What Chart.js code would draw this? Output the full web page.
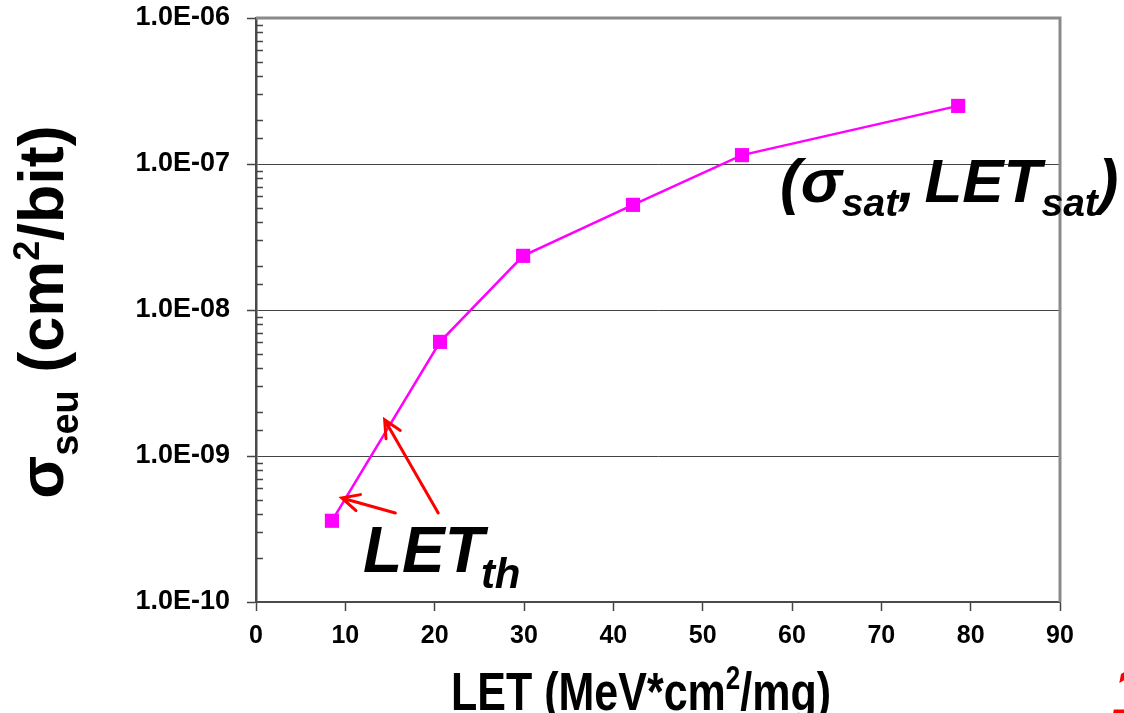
<!DOCTYPE html>
<html>
<head>
<meta charset="utf-8">
<script src="https://cdn.jsdelivr.net/npm/chart.js@4/dist/chart.umd.min.js"></script>
<style>
  html, body { margin: 0; padding: 0; background: #fff; }
  #wrap { width: 1124px; height: 713px; }
</style>
</head>
<body>
<div id="wrap"><canvas id="mycanvas" width="1124" height="713"></canvas></div>
<script>
// LET (MeV*cm2/mg) and cross section (cm2/bit)
var letValues = [8.5, 20.6, 29.9, 42.2, 54.4, 78.6];
var sigmaValues = [3.6e-10, 6.05e-9, 2.35e-8, 5.25e-8, 1.15e-7, 2.5e-7];

var xTickValues = [0, 10, 20, 30, 40, 50, 60, 70, 80, 90];
var yTickLabels = ['1.0E-10', '1.0E-09', '1.0E-08', '1.0E-07', '1.0E-06'];

// red arrows pointing at the threshold (tail -> head, data units)
var arrowTails = [[15.6, 4.07e-10], [20.4, 4.07e-10]];
var arrowHeads = [[9.6, 5.16e-10], [14.4, 1.77e-9]];

var FONT = "'Liberation Sans', Arial, sans-serif";

function isDecade(v) {
  var l = Math.log10(v);
  return Math.abs(l - Math.round(l)) < 1e-6;
}

// draw a run of text pieces (normal / sub / superscript) starting at x
function drawRun(ctx, pieces, x, y) {
  pieces.forEach(function(p) {
    ctx.font = p.font;
    ctx.fillText(p.t, x, y + (p.dy || 0));
    x += ctx.measureText(p.t).width + (p.gap || 0);
  });
  return x;
}
function runWidth(ctx, pieces) {
  var w = 0;
  pieces.forEach(function(p) {
    ctx.font = p.font;
    w += ctx.measureText(p.t).width + (p.gap || 0);
  });
  return w;
}

var extras = {
  id: 'extras',
  afterDraw: function(chart) {
    var ctx = chart.ctx;
    var a = chart.chartArea;
    var xs = chart.scales.x, ys = chart.scales.y;
    ctx.save();

    // top + right frame
    ctx.strokeStyle = '#8a8a8a';
    ctx.lineWidth = 3;
    ctx.beginPath();
    ctx.moveTo(a.left, a.top);
    ctx.lineTo(a.right, a.top);
    ctx.lineTo(a.right, a.bottom);
    ctx.stroke();

    // minor ticks inside the y axis
    ctx.strokeStyle = '#444';
    ctx.lineWidth = 1.5;
    ys.ticks.forEach(function(t) {
      if (isDecade(t.value)) return;
      var py = Math.round(ys.getPixelForValue(t.value)) + 0.5;
      ctx.beginPath();
      ctx.moveTo(a.left, py);
      ctx.lineTo(a.left + 7, py);
      ctx.stroke();
    });

    // arrows
    ctx.strokeStyle = '#ff0000';
    ctx.lineWidth = 3;
    ctx.lineCap = 'round';
    for (var i = 0; i < arrowTails.length; i++) {
      var x0 = xs.getPixelForValue(arrowTails[i][0]), y0 = ys.getPixelForValue(arrowTails[i][1]);
      var x1 = xs.getPixelForValue(arrowHeads[i][0]), y1 = ys.getPixelForValue(arrowHeads[i][1]);
      var ang = Math.atan2(y1 - y0, x1 - x0);
      var hl = 19, hw = 0.45;
      ctx.beginPath();
      ctx.moveTo(x0, y0);
      ctx.lineTo(x1, y1);
      ctx.moveTo(x1 - hl * Math.cos(ang - hw), y1 - hl * Math.sin(ang - hw));
      ctx.lineTo(x1, y1);
      ctx.lineTo(x1 - hl * Math.cos(ang + hw), y1 - hl * Math.sin(ang + hw));
      ctx.stroke();
    }

    ctx.fillStyle = '#000';
    ctx.textBaseline = 'alphabetic';
    ctx.textAlign = 'left';

    // y title, rotated
    var yt = [
      { t: 'σ', font: 'bold 63px ' + FONT },
      { t: 'seu', font: 'bold 38px ' + FONT, dy: 15 },
      { t: ' (cm', font: 'bold 63px ' + FONT },
      { t: '2', font: 'bold 36px ' + FONT, dy: -24 },
      { t: '/bit)', font: 'bold 63px ' + FONT }
    ];
    ctx.save();
    ctx.translate(63, 312);
    ctx.rotate(-Math.PI / 2);
    drawRun(ctx, yt, -runWidth(ctx, yt) / 2, 0);
    ctx.restore();

    // x title (a little condensed)
    var xt = [
      { t: 'LET (MeV*cm', font: 'bold 43px ' + FONT },
      { t: '2', font: 'bold 26px ' + FONT, dy: -17 },
      { t: '/mg)', font: 'bold 43px ' + FONT }
    ];
    ctx.save();
    ctx.translate(641, 710);
    ctx.scale(1, 1.25);
    drawRun(ctx, xt, -runWidth(ctx, xt) / 2, 0);
    ctx.restore();

    // LET_th label
    var th = [
      { t: 'LET', font: 'italic bold 64px ' + FONT, gap: -3 },
      { t: 'th', font: 'italic bold 42px ' + FONT, dy: 16 }
    ];
    drawRun(ctx, th, 363, 572);

    // (sigma_sat, LET_sat) label
    var sat = [
      { t: '(', font: 'italic bold 62px ' + FONT },
      { t: 'σ', font: 'italic bold 62px ' + FONT },
      { t: 'sat', font: 'italic bold 39px ' + FONT, dy: 14 },
      { t: ',', font: 'italic bold 62px ' + FONT, gap: 9 },
      { t: 'LET', font: 'italic bold 62px ' + FONT },
      { t: 'sat', font: 'italic bold 39px ' + FONT, dy: 14 },
      { t: ')', font: 'italic bold 62px ' + FONT }
    ];
    drawRun(ctx, sat, 780, 202);

    // clipped red glyph at the bottom right edge
    ctx.fillStyle = '#ff0000';
    ctx.font = 'italic bold 76px ' + FONT;
    ctx.fillText('1', 1111, 718);

    ctx.restore();
  }
};

var chartdata = {
  datasets: [
    {
      label: 'sigma',
      data: letValues.map(function(v, i) { return { x: v, y: sigmaValues[i] }; }),
      borderColor: '#ff00ff',
      backgroundColor: '#ff00ff',
      borderWidth: 2.5,
      pointStyle: 'rect',
      pointRadius: 10,
      pointBorderWidth: 0,
      pointBackgroundColor: '#ff00ff',
      fill: false,
      tension: 0
    }
  ]
};

var ctx = document.getElementById('mycanvas');

var LineGraph = new Chart(ctx, {
  type: 'line',
  data: chartdata,
  plugins: [extras],
  options: {
    responsive: false,
    animation: false,
    devicePixelRatio: 1,
    layout: { autoPadding: false, padding: { left: 0, top: 18, right: 64, bottom: 0 } },
    plugins: { legend: { display: false }, tooltip: { enabled: false } },
    scales: {
      x: {
        type: 'linear',
        min: 0,
        max: 90,
        afterBuildTicks: function(scale) {
          scale.ticks = xTickValues.map(function(v) { return { value: v }; });
        },
        afterFit: function(scale) {
          scale.height = 111;
          scale.paddingLeft = 0;
          scale.paddingRight = 0;
        },
        grid: { drawOnChartArea: false, drawTicks: true, tickLength: 9, tickColor: '#444', tickWidth: 1.5 },
        border: { display: true, color: '#4a4a4a', width: 2 },
        ticks: {
          color: '#000',
          padding: 10,
          maxRotation: 0,
          font: { family: FONT, size: 25, weight: 'bold' }
        }
      },
      y: {
        type: 'logarithmic',
        min: 1e-10,
        max: 1e-6,
        afterFit: function(scale) {
          scale.width = 256;
          scale.paddingTop = 0;
          scale.paddingBottom = 0;
        },
        grid: {
          color: function(c) { return c.tick && isDecade(c.tick.value) ? '#444' : 'rgba(0,0,0,0)'; },
          tickColor: function(c) { return c.tick && isDecade(c.tick.value) ? '#444' : 'rgba(0,0,0,0)'; },
          lineWidth: 1,
          tickLength: 9,
          tickWidth: 1.5
        },
        border: { display: true, color: '#4a4a4a', width: 2.5 },
        ticks: {
          color: '#000',
          padding: 17,
          autoSkip: false,
          font: { family: FONT, size: 27, weight: 'bold' },
          callback: function(v) {
            if (!isDecade(v)) return '';
            return yTickLabels[Math.round(Math.log10(v)) + 10];
          }
        }
      }
    }
  }
});
</script>
</body>
</html>
